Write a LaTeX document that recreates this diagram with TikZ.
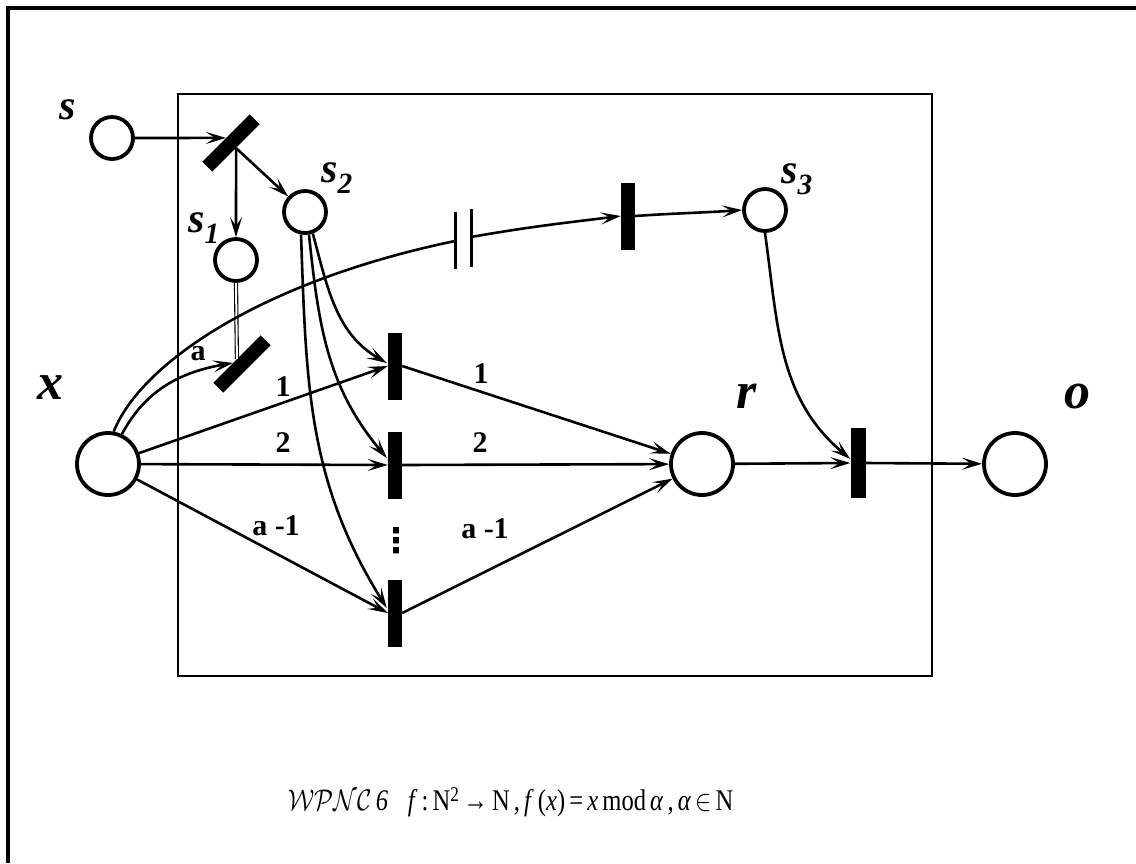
\documentclass[tikz,border=0pt]{standalone}
\usepackage{fontspec}
\usepackage{graphicx}
\setmainfont{Liberation Serif}
\newfontfamily\dejavu{DejaVu Sans}
\usetikzlibrary{arrows.meta,calc}
\begin{document}
\begin{tikzpicture}[x=1pt,y=-1pt,
 place/.style={circle,draw,line width=3.8pt,inner sep=0pt},
 big/.style={place,minimum size=62pt},
 small/.style={place,minimum size=42pt},
 tbar/.style={fill=black,inner sep=0pt,minimum width=14pt,minimum height=67pt},
 arc/.style={line width=2.6pt,-{Stealth[length=20pt,width=12pt,inset=9pt]}},
 ln/.style={line width=2.6pt},
 lab/.style={font=\fontsize{52}{52}\selectfont\bfseries\itshape},
 slab/.style={font=\fontsize{42}{42}\selectfont\bfseries\itshape},
 num/.style={font=\fontsize{30}{30}\selectfont\bfseries}]
\useasboundingbox (0,0) rectangle (1136,863);
\draw[line width=3.4pt] (8,863) -- (8,8) -- (1136,8);
\draw[line width=2pt] (178,94) rectangle (932,676);

% places and transitions
\node[small] (s) at (112,138) {};
\node[tbar,rotate=-45] (t0) at (231,143) {};
\node[small] (s1) at (236,260) {};
\node[small] (s2) at (305,212) {};
\node[tbar,rotate=-45] (t1) at (242,364) {};
\node[big] (x) at (108,464) {};
\node[tbar] (b1) at (395,366) {};
\node[tbar] (b2) at (395,465) {};
\node[tbar] (b3) at (395,613) {};
\node[tbar] (tb) at (628,216) {};
\node[small] (s3) at (765,210) {};
\node[big] (r) at (702,464) {};
\node[tbar,minimum width=15pt,minimum height=70pt] (fb) at (858,463) {};
\node[big] (o) at (1015,464) {};
\coordinate (c1) at (455,241);
\coordinate (c2) at (471,237);

% labels
\node[slab] at (68,110) {s};
\node[slab] at (204,228) {s\textsubscript{1}};
\node[slab] at (337,178) {s\textsubscript{2}};
\node[slab] at (797,179) {s\textsubscript{3}};
\node[lab] at (50,388) {x};
\node[lab] at (747,396) {r};
\node[lab] at (1077,396) {o};
\node[num] at (198,354) {a};
\node[num] at (283,387) {1};
\node[num] at (283,443) {2};
\node[num] at (276,526) {a -1};
\node[num] at (481,374) {1};
\node[num] at (480,443) {2};
\node[num] at (485,529) {a -1};
\node[font=\fontsize{34}{34}\selectfont\dejavu\bfseries] at (396,541) {⋮};

% connectors
\draw[arc] (s.east) -- (t0.west);
\draw[arc] (t0.east) -- (s1.north);
\draw[arc] (t0.east) -- (s2);
\draw[double,double distance=2pt,line width=1.1pt] (s1.south) -- (t1.west);
\draw[arc] (x.65) to[out=62,in=190] ($(t1.west)+(-4,4)$);
\draw[ln] (x.80) .. controls (140,365) and (258,282) .. (c1);
\draw[arc] (c2) to[out=10,in=187] (tb.west);
\draw[line width=3pt] (455,212) -- (455,269);
\draw[line width=3pt] (471,209) -- (471,267);
\draw[arc] (tb.east) to[out=4,in=184] (s3.west);
\draw[arc] (s3.south) to[out=-82,in=140] ($(fb.west)+(0,-4)$);
\draw[arc] (s2.-70) to[out=-75,in=150] ($(b1.west)+(-1,-3)$);
\draw[arc] (s2.-80) to[out=-84,in=130] ($(b2.west)+(-1,-7)$);
\draw[arc] (s2.-100) to[out=-88,in=122] ($(b3.west)+(-1,-5)$);
\draw[arc] (x) -- (b1.west);
\draw[arc] (x) -- (b2.west);
\draw[arc] (x) -- (b3.west);
\draw[arc] (b1.east) -- (r);
\draw[arc] (b2.east) -- (r);
\draw[arc] (b3.east) -- (r);
\draw[arc] (r) -- (fb.west);
\draw[arc] (fb.east) -- (o);

% caption
\node[font=\fontsize{30}{30}\selectfont,inner sep=0pt] (cap) at (511,802)
 {\scalebox{0.82}[1]{\scalebox{1.2}{$\mathcal{W}\mathcal{P}\mathcal{N}\mathcal{C}$}\,\textit{6}\hspace{24pt}\textit{f}\,:\,N\textsuperscript{2}\,→\,N\,,\,\textit{f}\,(\textit{x})\,=\,\textit{x}\,mod\,\textit{α}\,,\,\textit{α}\,\scalebox{1.2}{$\in$}\,N}};
\end{tikzpicture}
\end{document}
